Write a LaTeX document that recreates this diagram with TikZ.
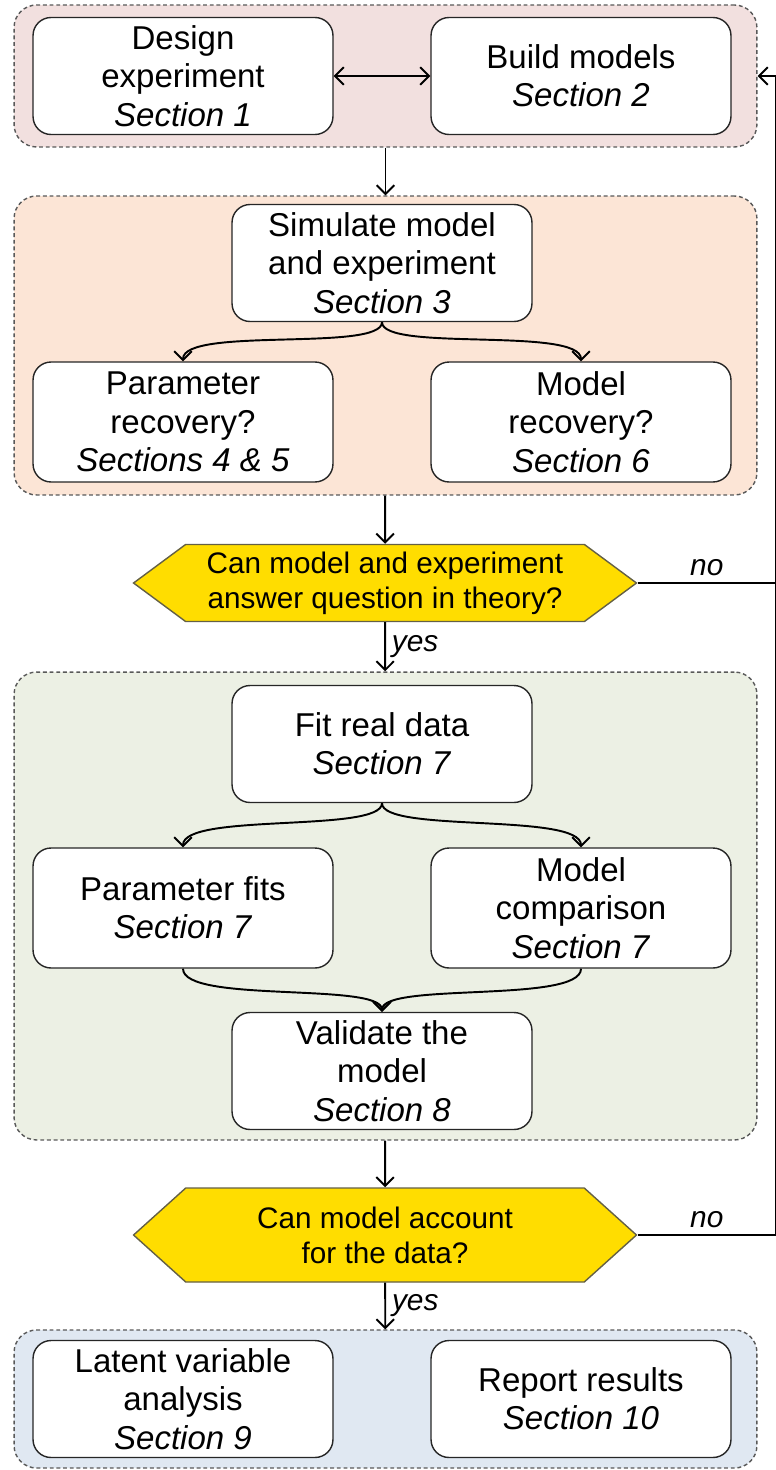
\documentclass[tikz,border=0pt]{standalone}
\usepackage{fontspec}
\setmainfont{Liberation Sans}
\usepackage{xcolor}
\usepackage{tikz}
\usetikzlibrary{
    calc,
    arrows.meta,
    shapes.symbols
}
\definecolor{grpPink}{RGB}{242,224,223}
\definecolor{grpPeach}{RGB}{252,229,214}
\definecolor{grpGreen}{RGB}{236,240,228}
\definecolor{grpBlue}{RGB}{224,232,242}
\definecolor{qYellow}{RGB}{255,221,0}
\tikzset{
    barb/.tip={Straight Barb[length=5pt, width=10pt]},
    stage/.style={draw=black!85, fill=white, rounded corners=0.36cm, line width=0.8pt,
        minimum width=6cm, minimum height=2.34cm, align=center,
        font=\fontsize{18.8}{21.8}\selectfont},
    group/.style={draw=black!65, dash pattern=on 2.2pt off 1.6pt, line width=0.8pt,
        rounded corners=0.45cm, minimum width=14.86cm, inner sep=0pt},
    question/.style={signal, signal to=west and east, draw=black!70!yellow, fill=qYellow,
        line width=0.8pt, minimum width=10.06cm, align=center, inner sep=0pt,
        font=\fontsize{16.9}{20}\selectfont},
    flow/.style={-barb, line width=1.1pt},
    tag/.style={font=\fontsize{17}{19}\selectfont\itshape},
}
\newcommand{\inSec}[1]{\textit{Section #1}}

\begin{document}
\begin{tikzpicture}[x=0.02cm, y=-0.02cm]
        \useasboundingbox (0,0) rectangle (776,1470);
        \coordinate (rt) at (776,0);

        % groups
        \draw (385.5,76)   node[group, fill=grpPink,  minimum height=2.84cm](g1){};
        \draw (385.5,345.5) node[group, fill=grpPeach, minimum height=5.98cm](g2){};
        \draw (385.5,906)  node[group, fill=grpGreen, minimum height=9.36cm](g3){};
        \draw (385.5,1399) node[group, fill=grpBlue,  minimum height=2.76cm](g4){};

        \draw (183,76)  node[stage](design){Design\\experiment\\\inSec{1}};
        \draw (581,76)  node[stage](build){Build models\\\inSec{2}};

        \draw (382,263) node[stage](sim){Simulate model\\and experiment\\\inSec{3}};
        \draw (183,422) node[stage, minimum height=2.4cm](prec){Parameter\\recovery?\\\textit{Sections 4 \& 5}};
        \draw (581,422) node[stage, minimum height=2.4cm](mrec){Model\\recovery?\\\inSec{6}};

        \draw (385,583) node[question, minimum height=1.54cm, signal pointer angle=73](q1){Can model and experiment\\answer question in theory?};

        \draw (382,744)  node[stage](fit){Fit real data\\\inSec{7}};
        \draw (183,908)  node[stage, minimum height=2.4cm](pfit){Parameter fits\\\inSec{7}};
        \draw (581,908)  node[stage, minimum height=2.4cm](mcomp){Model\\comparison\\\inSec{7}};
        \draw (382,1071) node[stage](valid){Validate the\\model\\\inSec{8}};

        \draw (385,1235) node[question, minimum height=1.88cm, signal pointer angle=84](q2){Can model account\\for the data?};

        \draw (183,1399) node[stage](latent){Latent variable\\analysis\\\inSec{9}};
        \draw (581,1399) node[stage](report){Report results\\\inSec{10}};

        \draw[flow, barb-barb] (design) to (build);
        \draw[flow] (g1) to (g2);
        \draw[flow] (sim.south) .. controls +(0,30) and +(0,-35) .. (prec.north);
        \draw[flow] (sim.south) .. controls +(0,30) and +(0,-35) .. (mrec.north);
        \draw[flow] (g2) to (q1);
        \draw[flow] (q1) to node[tag, right]{yes} (g3);
        \draw[flow] (fit.south) .. controls +(0,30) and +(0,-35) .. (pfit.north);
        \draw[flow] (fit.south) .. controls +(0,30) and +(0,-35) .. (mcomp.north);
        \draw[flow] (pfit.south) .. controls +(0,35) and +(0,-30) .. (valid.north);
        \draw[flow] (mcomp.south) .. controls +(0,35) and +(0,-30) .. (valid.north);
        \draw[flow] (g3) to (q2);
        \draw[flow] (q2) to node[tag, right]{yes} (g4);

        % loops back to the top
        \draw[line width=1.1pt] (q1.east) to node[tag, above]{no} (q1.east -| rt);
        \draw[flow] (q2.east) to node[tag, above]{no} (q2.east -| rt) |- (g1.east);
    \end{tikzpicture}
\end{document}
